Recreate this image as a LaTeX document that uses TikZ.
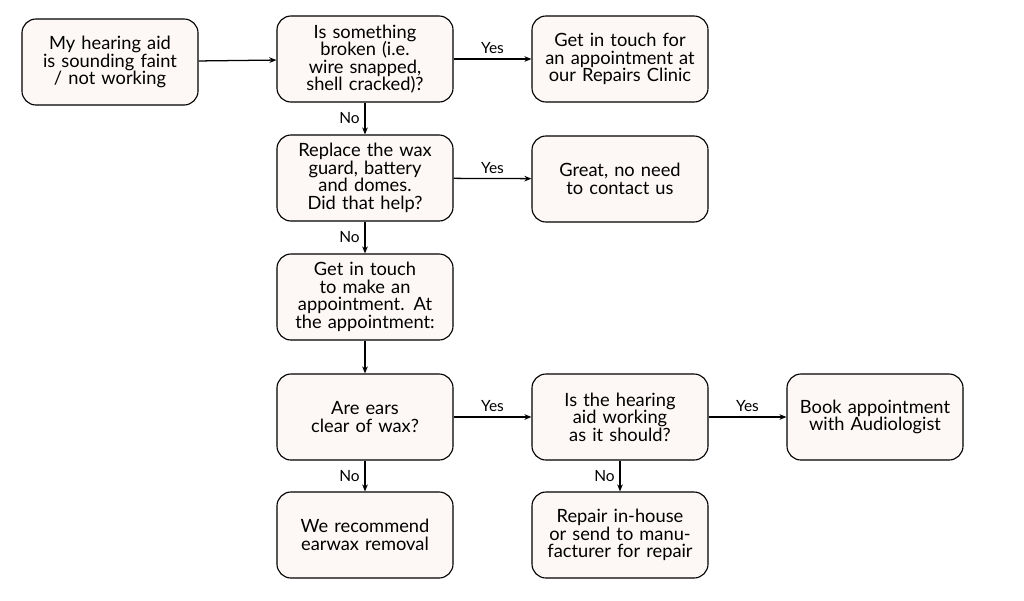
\documentclass[tikz,border=0pt]{standalone}
\usepackage{fontspec}
\setmainfont{Lato}
\usetikzlibrary{arrows.meta}
\definecolor{boxfill}{HTML}{FDF8F6}

\tikzset{
  stage/.style={draw=black, fill=boxfill, rounded corners=10pt, line width=0.8pt,
    minimum width=4.4cm, minimum height=2.15cm, text width=3.9cm, align=center,
    font=\fontsize{13}{12.5}\selectfont},
  link/.style={-{Stealth[length=5pt,width=4pt]}, line width=0.9pt},
  ans/.style={font=\fontsize{11}{12}\selectfont}
}

\begin{document}
\begin{tikzpicture}[x=0.025cm,y=-0.025cm]
\useasboundingbox (0,0) rectangle (1024,600);
\node[stage] (faint) at (110,62) {My hearing aid is sounding faint / not working};
\node[stage] (broken) at (365,59) {Is something broken (i.e. wire snapped, shell cracked)?};
\node[stage] (repairs) at (620,59) {Get in touch for an appointment at our Repairs Clinic};
\node[stage] (replace) at (365,178) {Replace the wax guard, battery and domes. Did that help?};
\node[stage] (great) at (620,179) {Great, no need to contact us};
\node[stage] (touch) at (365,297) {Get in touch to make an appointment. At the appointment:};
\node[stage] (clear) at (365,417) {Are ears clear of wax?};
\node[stage] (working) at (620,417) {Is the hearing aid working as it should?};
\node[stage] (book) at (875,417) {Book appointment with Audiologist};
\node[stage] (earwax) at (365,535) {We recommend earwax removal};
\node[stage] (inhouse) at (620,535) {Repair in-house or send to manufacturer for repair};

\draw[link] (faint) -- (broken);
\draw[link] (broken) -- node[ans, above] {Yes} (repairs);
\draw[link] (broken) -- node[ans, left] {No} (replace);
\draw[link] (replace) -- node[ans, above] {Yes} (great);
\draw[link] (replace) -- node[ans, left] {No} (touch);
\draw[link] (touch) -- (clear);
\draw[link] (clear) -- node[ans, above] {Yes} (working);
\draw[link] (working) -- node[ans, above] {Yes} (book);
\draw[link] (clear) -- node[ans, left] {No} (earwax);
\draw[link] (working) -- node[ans, left] {No} (inhouse);
\end{tikzpicture}
\end{document}
